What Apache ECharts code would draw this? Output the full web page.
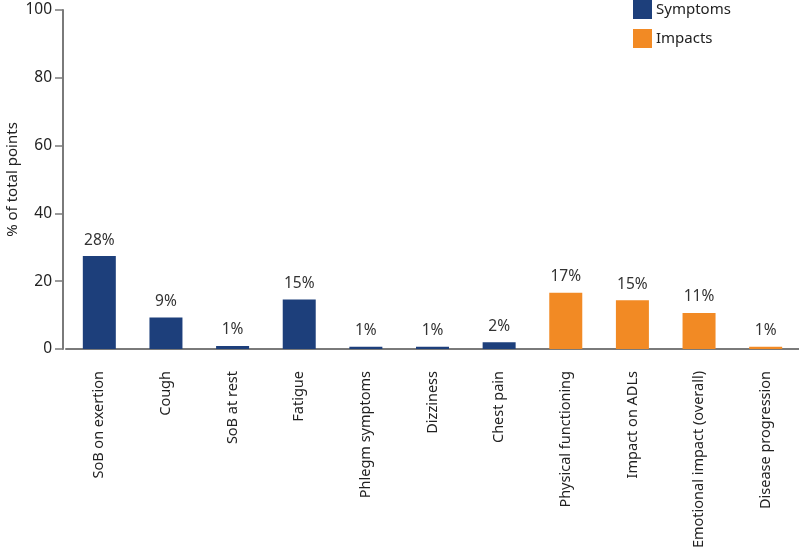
<!DOCTYPE html>
<html lang="en">
<head>
  <meta charset="UTF-8">
  <title>Symptoms and impacts</title>
  <style>
    html, body { margin: 0; padding: 0; background: #fff; }
    #main { width: 799px; height: 556px; }
  </style>
</head>
<body>
  <div id="main"></div>
  <script src="https://cdn.jsdelivr.net/npm/echarts@6/dist/echarts.min.js"></script>
  <script>
    // categories on the x axis
    var categories = ['SoB on exertion', 'Cough', 'SoB at rest', 'Fatigue', 'Phlegm symptoms',
      'Dizziness', 'Chest pain', 'Physical functioning', 'Impact on ADLs',
      'Emotional impact (overall)', 'Disease progression'];
    // bar heights
    var symptomValues = [27.4, 9.3, 0.9, 14.6, 0.7, 0.7, 2.0, '-', '-', '-', '-'];
    var impactValues = ['-', '-', '-', '-', '-', '-', '-', 16.6, 14.4, 10.6, 0.7];
    // printed labels above bars
    var barLabels = ['28%', '9%', '1%', '15%', '1%', '1%', '2%', '17%', '15%', '11%', '1%'];
    var yTicks = [0, 20, 40, 60, 80, 100];

    var font = '"Noto Sans", sans-serif';
    var axisGrey = '#7a7a7a';

    var myChart = echarts.init(document.getElementById('main'));

    var labelOpt = {
      show: true,
      position: 'top',
      distance: 8,
      fontFamily: font,
      fontSize: 15.5,
      color: '#333',
      formatter: function (p) { return barLabels[p.dataIndex]; }
    };

    myChart.setOption({
      animation: false,
      textStyle: { fontFamily: font },
      legend: {
        orient: 'vertical',
        left: 633,
        top: 0,
        padding: 0,
        icon: 'rect',
        itemWidth: 19,
        itemHeight: 19,
        itemGap: 10,
        textStyle: { fontFamily: font, fontSize: 15, color: '#222', padding: [0, 0, 0, -1] },
        data: ['Symptoms', 'Impacts']
      },
      grid: { left: 66, right: 0, top: 10, bottom: 207, outerBoundsMode: 'none' },
      xAxis: {
        type: 'category',
        data: categories,
        axisLine: { lineStyle: { color: axisGrey, width: 2 } },
        axisTick: { alignWithLabel: true, length: 8, lineStyle: { color: axisGrey, width: 1.5 } },
        axisLabel: {
          rotate: 90,
          interval: 0,
          margin: 22,
          fontFamily: font,
          fontSize: 14.5,
          color: '#222'
        }
      },
      yAxis: {
        type: 'value',
        min: yTicks[0],
        max: yTicks[yTicks.length - 1],
        interval: 20,
        offset: 3,
        name: '% of total points',
        nameLocation: 'middle',
        nameGap: 43,
        nameMoveOverlap: false,
        nameTextStyle: { fontFamily: font, fontSize: 15, color: '#222' },
        splitLine: { show: false },
        axisLine: { show: true, lineStyle: { color: axisGrey, width: 2 } },
        axisTick: { show: true, length: 8, lineStyle: { color: axisGrey, width: 1.5 } },
        axisLabel: { fontFamily: font, fontSize: 15.5, color: '#222', margin: 11 }
      },
      series: [
        {
          name: 'Symptoms',
          type: 'bar',
          stack: 'all',
          barWidth: 33,
          data: symptomValues,
          itemStyle: { color: '#1d3f7b' },
          label: labelOpt
        },
        {
          name: 'Impacts',
          type: 'bar',
          stack: 'all',
          barWidth: 33,
          data: impactValues,
          itemStyle: { color: '#f28a24' },
          label: labelOpt
        }
      ]
    });
  </script>
</body>
</html>
